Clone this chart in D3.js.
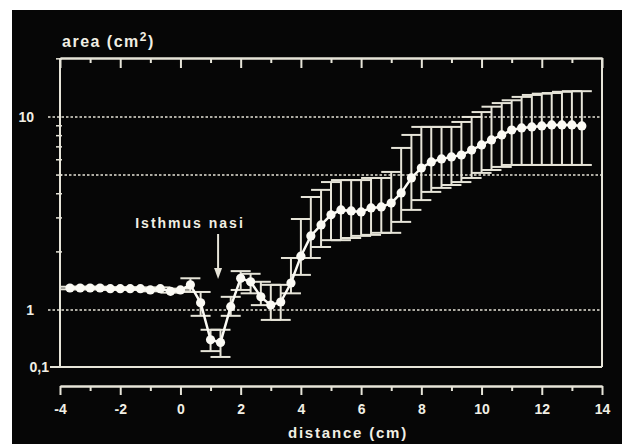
<!DOCTYPE html>
<html>
<head>
<meta charset="utf-8">
<script src="https://cdn.jsdelivr.net/npm/d3@7"></script>
<style>
  body { margin: 0; background: #fff; }
  text { font-family: "Liberation Sans", Arial, sans-serif; font-weight: bold; fill: #f1efe4; }
</style>
</head>
<body>
<svg id="chart" width="622" height="444"></svg>
<script>
// distance along the nose (cm)
let dist = [-3.67,-3.33,-3,-2.67,-2.33,-2,-1.67,-1.33,-1,-0.67,-0.33,0,
  0.33,0.67,1,1.33,1.67,2,2.33,2.67,3,3.33,3.67,4,
  4.33,4.67,5,5.33,5.67,6,6.33,6.67,7,7.33,7.67,8,
  8.33,8.67,9,9.33,9.67,10,10.33,10.67,11,11.33,11.67,12,
  12.33,12.67,13,13.33];

// mean area (cm2)
let meanArea = [1.30,1.30,1.30,1.30,1.29,1.29,1.29,1.29,1.27,1.29,1.25,1.27,
  1.35,1.09,0.30,0.27,1.04,1.46,1.40,1.17,1.06,1.10,1.38,1.90,
  2.42,2.76,3.11,3.30,3.26,3.22,3.38,3.42,3.58,4.04,4.83,5.44,
  5.85,6.06,6.21,6.35,6.74,7.16,7.60,8.07,8.56,8.77,8.88,8.98,
  9.09,9.09,9.09,8.98];

// error bar ends
let upperArea = [1.32,1.32,1.32,1.32,1.31,1.31,1.31,1.31,1.29,1.31,1.27,1.29,
  1.46,1.24,0.45,0.45,1.17,1.59,1.54,1.40,1.35,1.35,1.86,2.96,
  3.85,4.19,4.60,4.71,4.71,4.71,4.83,4.83,5.19,6.91,8.07,8.88,
  8.88,8.88,8.88,9.42,10.0,10.6,11.3,11.8,12.2,12.7,13.0,13.2,
  13.3,13.5,13.6,13.6];
let lowerArea = [1.28,1.28,1.28,1.28,1.27,1.27,1.27,1.27,1.25,1.27,1.23,1.25,
  1.24,0.79,0.19,0.15,0.79,1.27,1.22,1.06,0.67,0.67,1.22,1.52,
  1.86,2.12,2.30,2.30,2.36,2.42,2.45,2.51,2.51,2.86,3.30,3.71,
  4.09,4.29,4.44,4.60,4.83,5.13,5.31,5.51,5.64,5.64,5.64,5.64,
  5.64,5.64,5.64,5.64];

let xMajor = [-4,-2,0,2,4,6,8,10,12,14];
let xMinor = [-3,-1,1,3,5,7,9,11,13];
let yLabels = [{v: 10, t: "10"}, {v: 1, t: "1"}, {v: 0.1, t: "0,1"}];
let yDashed = [10, 5, 1];
let yMinor = [2,3,4,5,6,7,8,9,20];
let isthmusAt = 1.25;

let ink = "#e6e4d8";
let svg = d3.select("#chart");

// black photo background
svg.append("rect").attr("x", 12).attr("y", 10).attr("width", 610).attr("height", 434).attr("fill", "#060606");

let x = d3.scaleLinear().domain([-4, 14]).range([60, 602]);
// the printed axis squeezes the decade below 1
let y = d3.scaleLog().domain([0.1, 1, 20.2]).range([367, 310, 58]);

// dashed reference lines
svg.selectAll(".ref")
  .data(yDashed)
  .enter()
  .append("line")
  .attr("class", "ref")
  .attr("x1", d => d == 5 ? 60 : 48)
  .attr("x2", 602)
  .attr("y1", d => y(d)).attr("y2", d => y(d))
  .style("stroke", ink)
  .style("stroke-width", 1.5)
  .style("stroke-dasharray", "2.5,2");

// frame
let box = svg.append("g").style("stroke", ink).style("stroke-width", 2).style("fill", "none");
box.append("line").attr("x1", 60).attr("x2", 60).attr("y1", y.range()[2]).attr("y2", y(0.1));
box.append("line").attr("x1", 602).attr("x2", 602).attr("y1", y.range()[2]).attr("y2", y(0.1));
box.append("line").attr("x1", 50).attr("x2", 602).attr("y1", y(0.1)).attr("y2", y(0.1));

// left minor ticks
svg.selectAll(".ymin")
  .data(yMinor)
  .enter()
  .append("line")
  .attr("x1", 56).attr("x2", 62)
  .attr("y1", d => y(d)).attr("y2", d => y(d))
  .style("stroke", ink)
  .style("stroke-width", 1.5);

// top axis, ticks hanging into the plot
function styleAxis(g) {
  g.selectAll("path, line").style("stroke", ink).style("stroke-width", 2);
  g.selectAll("text").remove();
}
svg.append("g").attr("transform", "translate(0,58)")
  .call(d3.axisBottom(x).tickValues(xMajor).tickSize(10).tickSizeOuter(0))
  .call(styleAxis);
svg.append("g").attr("transform", "translate(0,58)")
  .call(d3.axisBottom(x).tickValues(xMinor).tickSize(5).tickSizeOuter(0))
  .call(styleAxis);

// bottom axis
svg.append("g").attr("transform", "translate(0,386)")
  .call(d3.axisBottom(x).tickValues(xMinor).tickSize(5).tickSizeOuter(0))
  .call(styleAxis);
let bottomAxis = svg.append("g").attr("transform", "translate(0,386)")
  .call(d3.axisBottom(x).tickValues(xMajor).tickSize(9).tickSizeOuter(0).tickFormat(d => d));
bottomAxis.selectAll("path, line").style("stroke", ink).style("stroke-width", 2);
bottomAxis.selectAll("text")
  .attr("y", 18)
  .style("font-size", "14px")
  .style("font-family", "'Liberation Sans', Arial, sans-serif")
  .style("font-weight", "bold")
  .style("fill", "#f1efe4");

// y labels
svg.selectAll(".ylab")
  .data(yLabels)
  .enter()
  .append("text")
  .attr("x", d => d.v == 0.1 ? 49 : 34)
  .attr("y", d => y(d.v) + 5)
  .attr("text-anchor", "end")
  .style("font-size", "14px")
  .text(d => d.t);

// axis titles
let title = svg.append("text").attr("x", 62).attr("y", 47).style("font-size", "16px").style("letter-spacing", "1.5px");
title.append("tspan").text("area (cm");
title.append("tspan").attr("dy", -6).style("font-size", "12px").text("2");
title.append("tspan").attr("dy", 6).text(")");

svg.append("text").attr("x", 348).attr("y", 438).attr("text-anchor", "middle")
  .style("font-size", "15px").style("letter-spacing", "1.8px").text("distance (cm)");

// error bars
let rows = dist.map((d, i) => ({d: d, m: meanArea[i], hi: upperArea[i], lo: lowerArea[i]}));
let bars = svg.append("g").style("stroke", ink).style("stroke-width", 2);
bars.selectAll(".stem").data(rows).enter().append("line")
  .attr("x1", r => x(r.d)).attr("x2", r => x(r.d))
  .attr("y1", r => y(r.hi)).attr("y2", r => y(r.lo));
bars.selectAll(".capHi").data(rows).enter().append("line")
  .attr("x1", r => x(r.d) - 10).attr("x2", r => x(r.d) + 10)
  .attr("y1", r => y(r.hi)).attr("y2", r => y(r.hi));
bars.selectAll(".capLo").data(rows).enter().append("line")
  .attr("x1", r => x(r.d) - 10).attr("x2", r => x(r.d) + 10)
  .attr("y1", r => y(r.lo)).attr("y2", r => y(r.lo));

// mean line and points
svg.append("path")
  .datum(rows)
  .attr("d", d3.line().x(r => x(r.d)).y(r => y(r.m)))
  .style("fill", "none")
  .style("stroke", "#fbfaf4")
  .style("stroke-width", 2.5);
svg.selectAll(".pt")
  .data(rows)
  .enter()
  .append("circle")
  .attr("cx", r => x(r.d))
  .attr("cy", r => y(r.m))
  .attr("r", 4.6)
  .style("fill", "#fbfaf4");

// isthmus nasi annotation
svg.append("text").attr("x", 190).attr("y", 228).attr("text-anchor", "middle")
  .style("font-size", "14px").style("letter-spacing", "2px").text("Isthmus nasi");
svg.append("line")
  .attr("x1", x(isthmusAt)).attr("x2", x(isthmusAt))
  .attr("y1", 234).attr("y2", 274)
  .style("stroke", ink).style("stroke-width", 2);
svg.append("path")
  .attr("d", "M" + (x(isthmusAt) - 4) + ",268 L" + x(isthmusAt) + ",279 L" + (x(isthmusAt) + 4) + ",268 Z")
  .style("fill", ink);
</script>
</body>
</html>
